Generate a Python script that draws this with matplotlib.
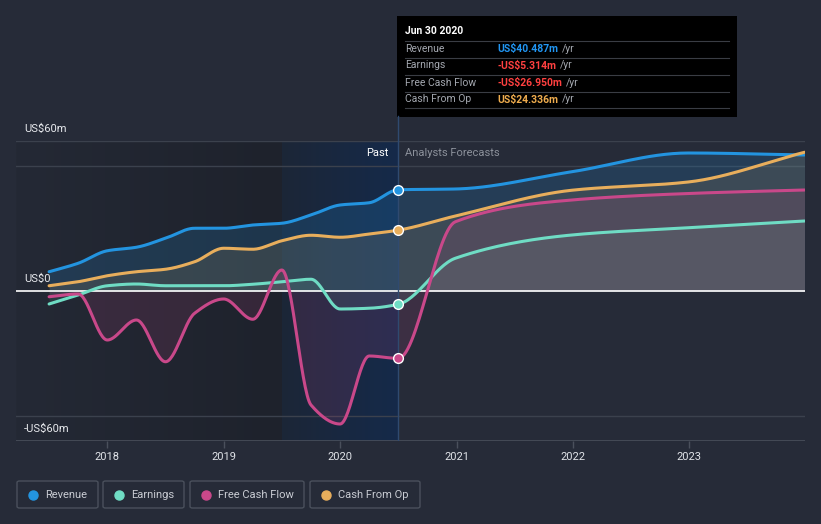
import numpy as np
import matplotlib
matplotlib.use("Agg")
import matplotlib.pyplot as plt
from matplotlib.patches import Rectangle, FancyBboxPatch, Circle
from matplotlib.lines import Line2D

plt.rcParams['font.family'] = ['Roboto', 'DejaVu Sans']

# quarterly history (US$m) + analyst forecasts
past_t = [2017.5, 2017.75, 2018.0, 2018.25, 2018.5, 2018.75, 2019.0,
          2019.25, 2019.5, 2019.75, 2020.0, 2020.25, 2020.5]
fc_t = [2020.99, 2021.99, 2022.99, 2023.99]

revenue_past = [7.7, 11.1, 16.1, 17.5, 21.1, 25.1, 25.1, 26.4, 27.1, 30.4, 34.4, 35.3, 40.487]
revenue_fc = [40.8, 47.7, 55.2, 54.4]
earnings_past = [-5.2, -1.6, 2.1, 2.8, 2.1, 2.1, 2.1, 2.7, 3.7, 4.7, -7.2, -6.9, -5.314]
earnings_fc = [13.1, 22.4, 25.3, 28.0]
fcf_past = [-2.3, -1.2, -19.6, -11.6, -28.3, -8.9, -3.2, -11.3, 8.4, -45.6, -53.2, -26.0, -26.95]
fcf_fc = [27.7, 36.4, 39.0, 40.4]
cfo_past = [2.1, 3.7, 6.1, 7.7, 8.7, 11.7, 17.1, 16.7, 20.1, 22.3, 21.5, 22.8, 24.336]
cfo_fc = [30.0, 40.3, 43.6, 55.5]

names = ["Revenue", "Earnings", "Free Cash Flow", "Cash From Op"]
colors = ["#2394e0", "#6fdcc4", "#c9488a", "#e8ae5c"]
series = [(revenue_past, revenue_fc), (earnings_past, earnings_fc),
          (fcf_past, fcf_fc), (cfo_past, cfo_fc)]
tip_vals = ["US$40.487m", "-US$5.314m", "-US$26.950m", "US$24.336m"]
tip_cols = ["#2196f3", "#ff4040", "#ff4040", "#f0ad4e"]
years = [2018, 2019, 2020, 2021, 2022, 2023]

BG = "#262b38"
W, H = 821, 524


def monotone(x, y, n=30):
    x = np.asarray(x, float)
    y = np.asarray(y, float)
    h = np.diff(x)
    d = np.diff(y) / h
    m = np.zeros_like(y)
    m[0], m[-1] = d[0], d[-1]
    for i in range(1, len(y) - 1):
        if d[i - 1] * d[i] <= 0:
            m[i] = 0
        else:
            w1 = 2 * h[i] + h[i - 1]
            w2 = h[i] + 2 * h[i - 1]
            m[i] = (w1 + w2) / (w1 / d[i - 1] + w2 / d[i])
    xs, ys = [], []
    for i in range(len(h)):
        t = np.linspace(0, 1, n, endpoint=False)
        h00 = 2 * t**3 - 3 * t**2 + 1
        h10 = t**3 - 2 * t**2 + t
        h01 = -2 * t**3 + 3 * t**2
        h11 = t**3 - t**2
        xs.append(x[i] + t * h[i])
        ys.append(h00 * y[i] + h10 * h[i] * m[i] + h01 * y[i + 1] + h11 * h[i] * m[i + 1])
    xs.append([x[-1]])
    ys.append([y[-1]])
    return np.concatenate(xs), np.concatenate(ys)


def px2x(px):
    return 2018 + (px - 107.3) / 116.4


fig = plt.figure(figsize=(W / 100, H / 100), dpi=100, facecolor=BG)
ax = fig.add_axes([16 / W, 1 - 441 / H, 789 / W, 300 / H])
ax.set_facecolor(BG)
x0, x1 = px2x(16), px2x(805)
ax.set_xlim(x0, x1)
ax.set_ylim(-60, 60)

# past background + highlighted last year
grad = np.linspace(0, 1, 256).reshape(1, -1)
from matplotlib.colors import LinearSegmentedColormap
cm_dark = LinearSegmentedColormap.from_list("d", ["#242935", "#1e222c"])
cm_blue = LinearSegmentedColormap.from_list("b", ["#1c2637", "#152a4a"])
ax.imshow(grad, cmap=cm_dark, extent=[x0, 2019.5, -60, 60], aspect="auto", zorder=0)
ax.imshow(grad, cmap=cm_blue, extent=[2019.5, 2020.5, -60, 60], aspect="auto", zorder=0)

for yv in [60, 50, -50]:
    ax.axhline(yv, color="#3b414d", lw=1, zorder=1)
ax.axhline(-60, color="#4a505c", lw=1.2, zorder=1)

fill_alpha = [0.18, 0.10, 0.14, 0.12]
for (p, f), c, a in zip(series, colors, fill_alpha):
    xs, ys = monotone(past_t + fc_t, p + f)
    ax.fill_between(xs, ys, 0, color=c, alpha=a, lw=0, zorder=2)
for (p, f), c in zip(series, colors):
    xs, ys = monotone(past_t + fc_t, p + f)
    ax.plot(xs, ys, color=c, lw=2.2, zorder=4, solid_capstyle="round")
    ax.plot([2020.5], [p[-1]], "o", ms=7, mfc=c, mec="white", mew=1, zorder=6)

ax.axhline(0, color="white", lw=1.2, zorder=3)
ax.axvline(2020.5, color="#2f4a70", lw=1, zorder=3)

ax.set_xticks(years)
ax.set_xticklabels([str(y) for y in years])
ax.tick_params(axis="x", colors="#4a505c", labelcolor="#e0e3e8", length=5,
               width=1, labelsize=8, pad=3)
ax.set_yticks([])
for s in ax.spines.values():
    s.set_visible(False)

ax.text(2020.5 - 0.08, 55.2, "Past", color="white", fontsize=8, ha="right", va="center")
ax.text(2020.5 + 0.06, 55.2, "Analysts Forecasts", color="#8c919b", fontsize=8,
        ha="left", va="center")


def ft(x, y, s, **kw):
    fig.text(x / W, 1 - y / H, s, **kw)


ft(24, 129, "US$60m", color="#e8eaee", fontsize=8, va="center")
ft(24, 279, "US$0", color="#e8eaee", fontsize=8, va="center")
ft(24, 429, "-US$60m", color="#e8eaee", fontsize=8, va="center")

# tooltip
fig.add_artist(Line2D([398 / W, 398 / W], [1 - 116 / H, 1 - 141 / H], color="#2f4a70", lw=1))
fig.add_artist(Rectangle((397 / W, 1 - 116.5 / H), 340 / W, 100.5 / H,
                         transform=fig.transFigure, facecolor="black", edgecolor="none"))
ft(405, 31.5, "Jun 30 2020", color="white", fontsize=7.5, fontweight="bold", va="center")
for i, yl in enumerate([40.7, 57.5, 74.5, 91.5, 108.5]):
    fig.add_artist(Line2D([405 / W, 729 / W], [1 - yl / H] * 2, color="#3a3d44", lw=0.8))
for i, (nm, v, c) in enumerate(zip(names, tip_vals, tip_cols)):
    yy = 48.5 + i * 17
    ft(405, yy, nm, color="#a4a8b0", fontsize=7.5, va="center")
    t = fig.text(497 / W, 1 - yy / H, v, color=c, fontsize=7.5, fontweight="bold", va="center")
    fig.canvas.draw()
    bb = t.get_window_extent()
    fig.text((bb.x1 + 4) / W, 1 - yy / H, "/yr", color="#a4a8b0", fontsize=7.5, va="center")

# legend
boxes = [(17, 98), (103, 184), (190, 304), (310, 420)]
for (l, r), nm, c in zip(boxes, names, colors):
    fig.add_artist(FancyBboxPatch((l / W, 1 - 508 / H), (r - l) / W, 27 / H,
                                  boxstyle="round,pad=0,rounding_size=0.003",
                                  transform=fig.transFigure, facecolor="none",
                                  edgecolor="#4a505c", lw=1))
    fig.add_artist(Line2D([(l + 16) / W], [1 - 494.5 / H], marker="o", ms=6.5,
                          color=c, mec=c, lw=0))
    ft(l + 28, 494.5, nm, color="#c9ccd3", fontsize=8, va="center")

fig.savefig("out.png", dpi=100, facecolor=BG)
